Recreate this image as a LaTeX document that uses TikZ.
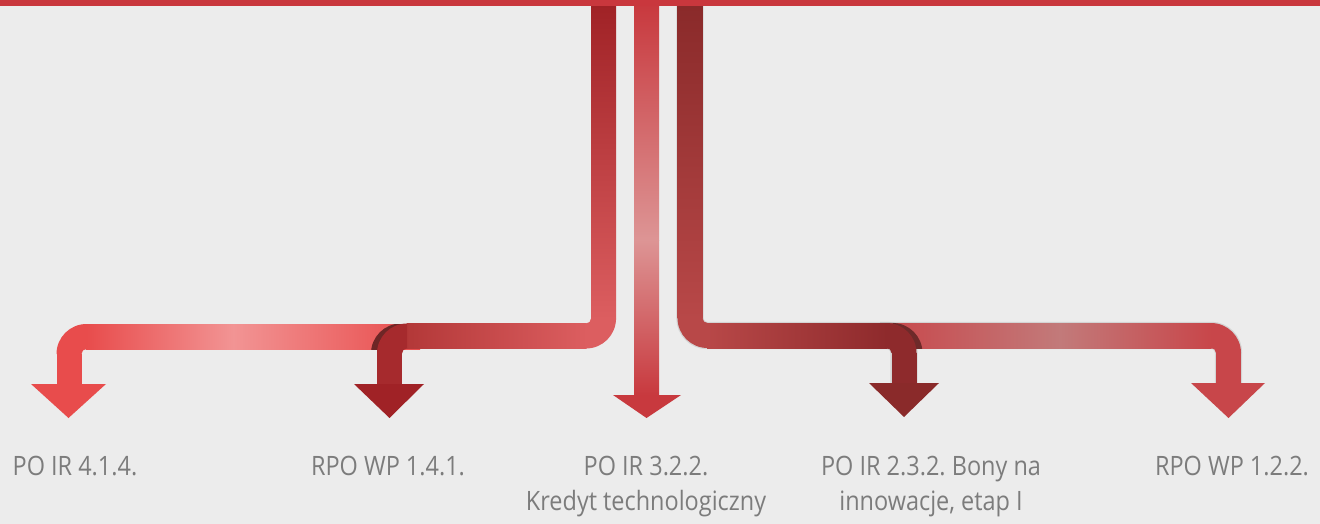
\documentclass[tikz,border=0pt]{standalone}
\usepackage{fontspec}
\setmainfont[FakeStretch=0.88]{Open Sans}
\newcommand\lblfont{\fontsize{20}{26.25}\selectfont}
\definecolor{bgc}{HTML}{ECECEC}
\definecolor{topc}{HTML}{C9373D}
\definecolor{txt}{HTML}{7C7C7C}
\definecolor{Aend}{HTML}{E84C4C}
\definecolor{Amid}{HTML}{F29494}
\definecolor{LBtop}{HTML}{A02226}
\definecolor{LBmid}{HTML}{DC5E60}
\definecolor{LBdark}{HTML}{A62A2D}
\definecolor{LBband}{HTML}{B33838}
\definecolor{shadA}{HTML}{6E2626}
\definecolor{Ctop}{HTML}{C8393E}
\definecolor{Cmid}{HTML}{DD9595}
\definecolor{RDtop}{HTML}{8A2A2A}
\definecolor{RDmid}{HTML}{B84848}
\definecolor{RDdark}{HTML}{8E2A2C}
\definecolor{Eend}{HTML}{C8464A}
\definecolor{Emid}{HTML}{C27A7A}
\definecolor{shadE}{HTML}{6E2A2A}
\begin{document}
\frenchspacing
\begin{tikzpicture}[x=0.75pt,y=-0.75pt,
  lbl/.style={text=txt, font=\lblfont, inner sep=0pt, anchor=north, align=center},
  softedge/.style={line width=20.5pt, draw=gray, opacity=0.22, rounded corners=13pt}]
\fill[bgc] (0,0) rectangle (1320,524);
\useasboundingbox (0,0) rectangle (1320,524);

% ---------- Arrow A (leftmost, light red) ----------
\shade[left color=Aend, right color=Amid] (86,324) rectangle (233.5,349);
\shade[left color=Amid, right color=Aend] (233,324) rectangle (420,349);
\fill[Aend] (86.5,324) arc (270:180:30) -- (81.5,354) arc (180:270:5) -- cycle;
\fill[Aend] (56.5,353.5) rectangle (81.5,384.5);
\fill[Aend] (31,384) -- (106,384) -- (68.5,418) -- cycle;

% ---------- Arrow L -> B (dark red) ----------
\begin{scope}
  \clip (340,324) rectangle (440,349);
  \fill[shadA] (401,323.5) arc (270:180:30) -- (396,353.5) arc (180:270:5) -- cycle;
\end{scope}
\shade[top color=LBtop, bottom color=LBmid] (591,5) rectangle (616,319);
\fill[LBmid] (616,318.5) arc (0:90:30) -- (586,323.5) arc (90:0:5) -- cycle;
\shade[left color=LBband, right color=LBmid] (406.5,323.5) rectangle (586.5,348.5);
\fill[LBdark] (407,323.5) arc (270:180:30) -- (402,353.5) arc (180:270:5) -- cycle;
\fill[LBdark] (377,353) rectangle (402,384.5);
\fill[LBtop] (354,384) -- (424,384) -- (389.5,418) -- cycle;

% ---------- Centre arrow ----------
\shade[top color=Ctop, bottom color=Cmid] (634,5) rectangle (659,240.5);
\shade[top color=Cmid, bottom color=Ctop] (634,240) rectangle (659,395.5);
\fill[Ctop] (613,395) -- (681,395) -- (646.5,418) -- cycle;

% ---------- Arrow E (rightmost) ----------
\draw[softedge] (880,335.5) -- (1228.5,335.5) -- (1228.5,383);
\shade[left color=Eend, right color=Emid] (880,323) rectangle (1060.5,348);
\shade[left color=Emid, right color=Eend] (1060,323) rectangle (1211.5,348);
\fill[Eend] (1211,323) arc (270:360:30) -- (1216,353) arc (360:270:5) -- cycle;
\fill[Eend] (1216,352.5) rectangle (1241,383.5);
\fill[Eend] (1191,383) -- (1265,383) -- (1228.5,418) -- cycle;

% ---------- Arrow R -> D (maroon) ----------
\draw[softedge] (690,5) -- (690,335.5) -- (904,335.5) -- (904,383);
\begin{scope}
  \clip (860,323) rectangle (950,348);
  \fill[shadE] (892.5,323) arc (270:360:30) -- (897.5,353) arc (360:270:5) -- cycle;
\end{scope}
\shade[top color=RDtop, bottom color=RDmid] (677.5,5) rectangle (702.5,318.5);
\fill[RDmid] (677.5,318) arc (180:90:30) -- (707.5,323) arc (90:180:5) -- cycle;
\shade[left color=RDmid, right color=RDdark] (707,323) rectangle (887,348);
\fill[RDdark] (886.5,323) arc (270:360:30) -- (891.5,353) arc (360:270:5) -- cycle;
\fill[RDdark] (891.5,352.5) rectangle (916.5,383.5);
\fill[RDtop] (869,383) -- (939,383) -- (904,417) -- cycle;

% ---------- Top line ----------
\fill[topc] (0,0) rectangle (1320,6);

% ---------- Labels ----------
\node[lbl] (la) at (75,456) {PO IR 4.1.4.};
\node[lbl] (lb) at (388,456) {RPO WP 1.4.1.};
\node[lbl] (lc) at (646,456) {PO IR 3.2.2.\\Kredyt technologiczny};
\node[lbl] (ld) at (931,456) {PO IR 2.3.2. Bony na\\innowacje, etap I};
\node[lbl] (le) at (1232,456) {RPO WP 1.2.2.};
\end{tikzpicture}
\end{document}
